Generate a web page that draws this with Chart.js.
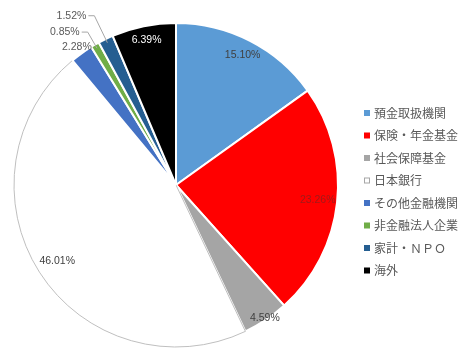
<!DOCTYPE html>
<html>
<head>
<meta charset="utf-8">
<script src="https://cdn.jsdelivr.net/npm/chart.js@4"></script>
<style>
  html, body { margin: 0; padding: 0; background: #fff; }
  #wrap { width: 474px; height: 353px; }
</style>
</head>
<body>
<div id="wrap"><canvas id="pieChart" width="474" height="353"></canvas></div>
<script>
// sectors and their shares (%)
const labels = ['預金取扱機関', '保険・年金基金', '社会保障基金', '日本銀行', 'その他金融機関', '非金融法人企業', '家計・ＮＰＯ', '海外'];
const shares = [15.10, 23.26, 4.59, 46.01, 2.28, 0.85, 1.52, 6.39];
const colors = ['#5B9BD5', '#FF0000', '#A5A5A5', '#FFFFFF', '#4472C4', '#70AD47', '#255E91', '#000000'];

// label styling per slice
const labelColors = ['#404040', '#9E1A1A', '#404040', '#404040', '#595959', '#595959', '#595959', '#FFFFFF'];
const labelRadius = [0.9, 0.88, 0.99, 0.87, 1.05, 1.09, 1.16, 0.91];
const leaderLine = [false, false, false, false, false, true, true, false];

const pctLabels = {
    id: 'pctLabels',
    afterDatasetsDraw(chart) {
        const ctx = chart.ctx;
        const arcs = chart.getDatasetMeta(0).data;
        ctx.save();
        ctx.font = '10.5px "Liberation Sans", Arial, sans-serif';
        ctx.textBaseline = 'middle';
        arcs.forEach((arc, i) => {
            const mid = (arc.startAngle + arc.endAngle) / 2;
            const r = arc.outerRadius;
            const txt = shares[i].toFixed(2) + '%';
            if (leaderLine[i]) {
                const ex = arc.x + Math.cos(mid) * (r - 4);
                const ey = arc.y + Math.sin(mid) * (r - 4);
                const bx = arc.x + Math.cos(mid) * r * labelRadius[i];
                const by = arc.y + Math.sin(mid) * r * labelRadius[i];
                ctx.strokeStyle = '#A6A6A6';
                ctx.lineWidth = 1;
                ctx.beginPath();
                ctx.moveTo(ex, ey);
                ctx.lineTo(bx, by);
                ctx.lineTo(bx - 6, by);
                ctx.stroke();
                ctx.fillStyle = labelColors[i];
                ctx.textAlign = 'right';
                ctx.fillText(txt, bx - 8, by);
            } else {
                const lx = arc.x + Math.cos(mid) * r * labelRadius[i];
                const ly = arc.y + Math.sin(mid) * r * labelRadius[i];
                ctx.fillStyle = labelColors[i];
                ctx.textAlign = 'center';
                ctx.fillText(txt, lx, ly);
            }
        });
        ctx.restore();
    }
};

const sideLegend = {
    id: 'sideLegend',
    afterDraw(chart) {
        const ctx = chart.ctx;
        ctx.save();
        ctx.font = '12px "Noto Sans CJK JP", sans-serif';
        ctx.textBaseline = 'middle';
        ctx.textAlign = 'left';
        labels.forEach((name, i) => {
            const y = 113 + i * 22.5;
            ctx.fillStyle = colors[i];
            ctx.fillRect(364, y - 3, 6, 6);
            if (colors[i] === '#FFFFFF') {
                ctx.strokeStyle = '#A6A6A6';
                ctx.lineWidth = 1;
                ctx.strokeRect(364.5, y - 2.5, 5, 5);
            }
            ctx.fillStyle = '#595959';
            ctx.fillText(name, 374, y);
        });
        ctx.restore();
    }
};

new Chart(document.getElementById('pieChart').getContext('2d'), {
    type: 'pie',
    data: {
        labels: labels,
        datasets: [{
            data: shares,
            backgroundColor: colors,
            borderColor: ['#fff', '#fff', '#fff', '#BFBFBF', '#fff', '#fff', '#fff', '#fff'],
            borderWidth: [2, 2, 2, 1, 2, 2, 2, 2]
        }]
    },
    options: {
        responsive: false,
        animation: false,
        layout: { padding: { left: 13, right: 135, top: 22, bottom: 5 } },
        plugins: {
            legend: { display: false },
            tooltip: { enabled: false }
        }
    },
    plugins: [pctLabels, sideLegend]
});
</script>
</body>
</html>
